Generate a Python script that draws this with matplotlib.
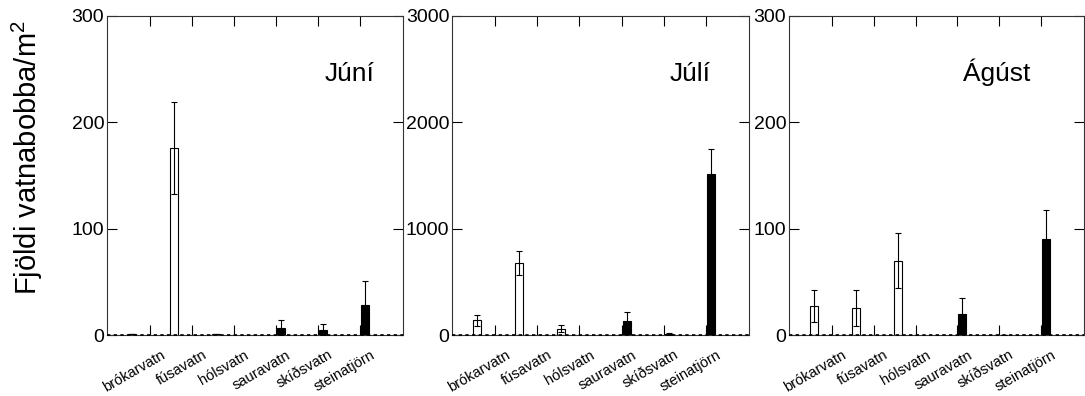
import numpy as np
import matplotlib
matplotlib.use("Agg")
import matplotlib.pyplot as plt

plt.rcParams['font.family'] = ['Liberation Sans', 'DejaVu Sans']
plt.rcParams['mathtext.default'] = 'regular'

# Lakes (x categories)
lakes = ["brókarvatn", "fúsavatn", "hólsvatn", "sauravatn", "skíðsvatn", "steinatjörn"]
open_idx = [0, 1, 2]    # open (white) bars
black_idx = [3, 4, 5]   # filled (black) bars

months = ["Júní", "Júlí", "Ágúst"]
ymax = [300, 3000, 300]
yticks = [[0, 100, 200, 300], [0, 1000, 2000, 3000], [0, 100, 200, 300]]

# Mean values and error
open_vals = [[0.5, 176, 0.5], [138, 675, 60], [27, 25, 70]]
open_err = [[0, 43, 0], [53, 112, 33], [15, 17, 26]]
black_vals = [[7, 5, 28], [130, 12, 1515], [20, 0, 90]]
black_err = [[7, 5, 23], [82, 8, 235], [15, 0, 28]]

# label placement of the panel names (right edge, in axes fraction)
title_x = [0.905, 0.87, 0.817]

fig = plt.figure(figsize=(10.85, 3.96), dpi=100)
lefts = [107, 452, 789]
widths = [296, 297, 295]

for k in range(3):
    ax = fig.add_axes([lefts[k] / 1085, 1 - 335 / 396, widths[k] / 1085, 319 / 396])
    x_open = np.array(open_idx) - 0.43
    x_black = np.array(black_idx) + 0.12
    ax.bar(x_open, open_vals[k], width=0.19, color="white", edgecolor="black", linewidth=0.8, zorder=2)
    ax.errorbar(x_open, open_vals[k], yerr=open_err[k], fmt="none", ecolor="black",
                elinewidth=0.8, capsize=2, capthick=0.8, zorder=3)
    ax.bar(x_black, black_vals[k], width=0.19, color="black", edgecolor="black", linewidth=0.8, zorder=2)
    ax.errorbar(x_black, black_vals[k], yerr=black_err[k], fmt="none", ecolor="black",
                elinewidth=0.8, capsize=2, capthick=0.8, zorder=3)

    ax.axhline(0, color="black", linewidth=1.2, linestyle=(0, (2, 2)), zorder=4, clip_on=False)

    ax.set_xlim(-1.024, 6.024)
    ax.set_ylim(0, ymax[k])
    ax.set_yticks(yticks[k])
    ax.set_xticks(range(len(lakes)))
    ax.set_xticklabels([])
    ax.tick_params(axis="both", direction="in", length=7, width=0.8,
                   top=True, right=True, labelsize=14, pad=2)
    for s in ax.spines.values():
        s.set_linewidth(0.8)
        s.set_color("#333333")

    for i, name in enumerate(lakes):
        ax.text(i + 0.24, -0.04, name, transform=ax.get_xaxis_transform(),
                rotation=30, rotation_mode="anchor", ha="right", va="top", fontsize=10.5)

    ax.text(title_x[k], 0.797, months[k], transform=ax.transAxes,
            ha="right", va="baseline", fontsize=19)

fig.text(27.5 / 1085, 1 - 158 / 396, "Fjöldi vatnabobba/m$^2$", rotation=90,
         ha="center", va="center", fontsize=21)

fig.savefig("out.png", dpi=100)
